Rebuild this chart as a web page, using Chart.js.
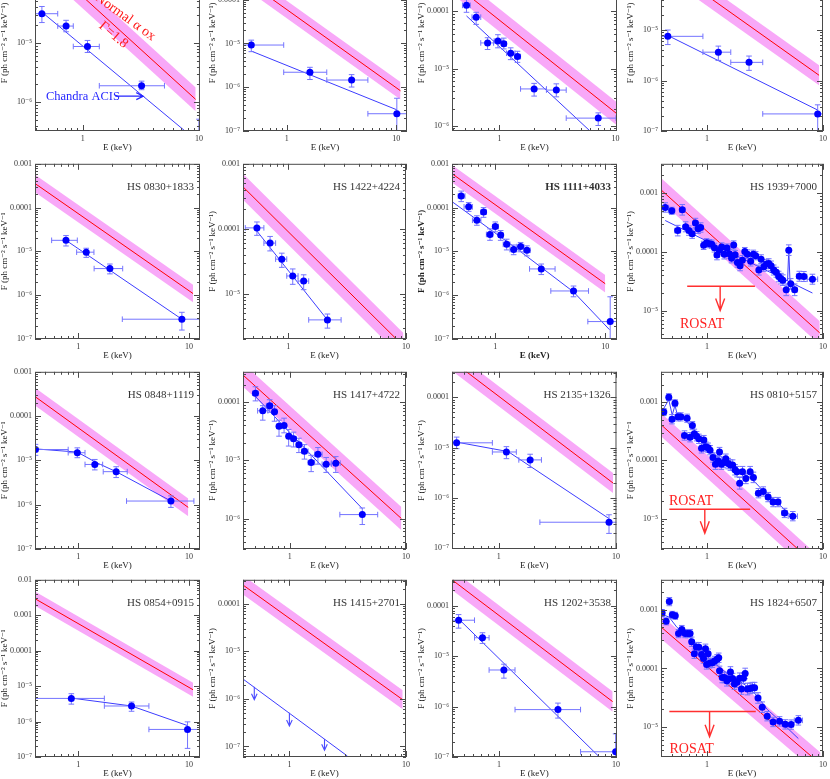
<!DOCTYPE html>
<html><head><meta charset="utf-8">
<script src="https://cdn.jsdelivr.net/npm/chart.js@4.4.1/dist/chart.umd.min.js"></script>
<style>
html,body{margin:0;padding:0;background:#fff;}
#wrap{position:relative;width:830px;height:779px;overflow:hidden;background:#fff}
#wrap canvas{position:absolute}
</style></head>
<body><div id="wrap"></div>
<script>
// ================= DATA =================
const xTickValues = [1, 10];
const xTickLabels = ["1", "10"];
const yTickValues = [1e-2, 1e-3, 1e-4, 1e-5, 1e-6, 1e-7];
const yTickLabels = ["0.01", "0.001", "0.0001", "10⁻⁵", "10⁻⁶", "10⁻⁷"];
const panelNames = ["", "", "", "", "HS 0830+1833", "HS 1422+4224", "HS 1111+4033", "HS 1939+7000",
  "HS 0848+1119", "HS 1417+4722", "HS 2135+1326", "HS 0810+5157", "HS 0854+0915", "HS 1415+2701", "HS 1202+3538", "HS 1824+6507"];
const yTitles = ["F (ph cm⁻² s⁻¹ keV⁻¹)", "F (ph cm⁻² s⁻¹ keV⁻¹)", "F (ph cm⁻² s⁻¹ keV⁻¹)", "F (ph cm⁻² s⁻¹ keV⁻¹)",
  "F (ph cm⁻² s⁻¹ keV⁻¹", "F (ph cm⁻² s⁻¹ keV⁻¹)", "F (ph cm⁻² s⁻¹ keV⁻¹)", "F (ph cm⁻² s⁻¹ keV⁻¹)",
  "F (ph cm⁻² s⁻¹ keV⁻¹", "F (ph cm⁻² s⁻¹ keV⁻¹)", "F (ph cm⁻² s⁻¹ keV⁻¹)", "F (ph cm⁻² s⁻¹ keV⁻¹",
  "F (ph cm⁻² s⁻¹ keV⁻¹", "F (ph cm⁻² s⁻¹ keV⁻¹)", "F (ph cm⁻² s⁻¹ keV⁻¹)", "F (ph cm⁻² s⁻¹ keV⁻¹)"];
const xTitle = "E (keV)";
const xRanges = [[0.389,10.2],[0.40,12.5],[0.39,10.3],[0.40,10],
                 [0.406,12.6],[0.412,10],[0.404,12.8],[0.402,10],
                 [0.406,12.6],[0.397,10],[0.398,10.1],[0.40,10],
                 [0.406,12.6],[0.40,10],[0.396,10.2],[0.40,10]];
const yRanges = [[3.29e-7,3.04e-4],[1e-7,1.06e-3],[8.1e-7,9.7e-4],[1e-7,3.09e-4],
                 [1e-7,1e-3],[2e-6,1e-3],[1e-7,1e-3],[3.28e-6,3.16e-3],
                 [1e-7,1e-3],[3.0e-7,3.32e-4],[9.6e-8,3.2e-4],[3.0e-6,3.33e-3],
                 [1e-7,1e-2],[6.37e-8,3.18e-4],[1e-7,3.25e-4],[3.08e-6,3.25e-3]];
const bandDex = 0.2;

// Panel 1
const p1_E=[0.446,0.72,1.10,3.21,10.0], p1_F=[3.1e-5,1.92e-5,8.7e-6,1.9e-6,2.5e-7];
const p1_Elo=[0.30,0.61,0.83,1.39,7.0], p1_Ehi=[0.61,0.83,1.39,5.05,14];
const p1_Flo=[2.2e-5,1.54e-5,6.9e-6,1.63e-6,1e-7], p1_Fhi=[4.1e-5,2.4e-5,1.1e-5,2.27e-6,5.2e-7];
const p1_modelE=[0.446,10], p1_modelF=[3.3e-5,2.1e-7];
const p1_normE=[0.389,9.37], p1_normF=[3.24e-4,1.12e-6];
// Panel 2
const p2_E=[0.476,1.63,3.91,10.1], p2_F=[9.2e-6,2.2e-6,1.46e-6,2.48e-7];
const p2_Elo=[0.30,0.94,2.32,5.5], p2_Ehi=[0.94,2.32,5.5,16];
const p2_Flo=[6.5e-6,1.5e-6,1.01e-6,5e-8], p2_Fhi=[1.19e-5,2.85e-6,1.94e-6,5.6e-7];
const p2_modelE=[0.476,10.1], p2_modelF=[6.7e-6,3.05e-7];
const p2_normE=[0.40,10.9], p2_normF=[3.08e-4,8.3e-7];
// Panel 3
const p3_E=[0.52,0.63,0.79,0.97,1.09,1.25,1.43,1.99,3.09,7.1];
const p3_F=[1.27e-4,7.9e-5,2.8e-5,3.03e-5,2.7e-5,1.85e-5,1.62e-5,4.4e-6,4.2e-6,1.36e-6];
const p3_Elo=[0.48,0.58,0.69,0.90,1.05,1.15,1.36,1.52,2.54,3.76];
const p3_Ehi=[0.56,0.69,0.89,1.05,1.15,1.36,1.52,2.54,3.76,10.1];
const p3_Flo=[9.6e-5,5.9e-5,2.15e-5,2.3e-5,2.2e-5,1.43e-5,1.28e-5,3.3e-6,3.2e-6,1.01e-6];
const p3_Fhi=[1.6e-4,9.6e-5,3.45e-5,3.9e-5,3.4e-5,2.3e-5,2.0e-5,5.5e-6,5.4e-6,1.68e-6];
const p3_modelE=[0.52,6.03], p3_modelF=[8.3e-5,8.1e-7];
const p3_normE=[0.39,10.2], p3_normF=[3.2e-4,1.64e-6];
// Panel 4
const p4_E=[0.458,1.25,2.3,9.0], p4_F=[7.5e-6,3.64e-6,2.29e-6,2.18e-7];
const p4_Elo=[0.30,0.92,1.6,3.02], p4_Ehi=[0.92,1.6,3.02,10.5];
const p4_Flo=[5.15e-6,2.5e-6,1.59e-6,9e-8], p4_Fhi=[1.0e-5,4.8e-6,3.05e-6,3.3e-7];
const p4_modelE=[0.458,9.0], p4_modelF=[7.8e-6,2.6e-7];
const p4_normE=[0.40,9.25], p4_normF=[2.12e-4,1.27e-6];
// Panel 5 HS 0830+1833
const p5_E=[0.774,1.18,1.93,8.64], p5_F=[1.79e-5,9.6e-6,4.05e-6,2.83e-7];
const p5_Elo=[0.574,0.966,1.39,2.5], p5_Ehi=[0.98,1.385,2.52,16];
const p5_Flo=[1.33e-5,7.3e-6,3.07e-6,1.6e-7], p5_Fhi=[2.3e-5,1.18e-5,5.15e-6,4.07e-7];
const p5_modelE=[0.774,8.64], p5_modelF=[1.79e-5,2.83e-7];
const p5_normE=[0.406,10.9], p5_normF=[3.55e-4,1.09e-6];
// Panel 6 HS 1422+4224
const p6_E=[0.541,0.70,0.88,1.09,1.35,2.15], p6_F=[1.03e-4,6.0e-5,3.4e-5,1.87e-5,1.56e-5,3.94e-6];
const p6_Elo=[0.431,0.62,0.78,0.97,1.21,1.49], p6_Ehi=[0.62,0.78,0.97,1.21,1.49,2.81];
const p6_Flo=[7.9e-5,4.55e-5,2.54e-5,1.39e-5,1.15e-5,2.94e-6], p6_Fhi=[1.27e-4,7.6e-5,4.2e-5,2.4e-5,1.95e-5,4.85e-6];
const p6_modelE=[0.541,2.15], p6_modelF=[9.2e-5,3.94e-6];
const p6_normE=[0.412,9.5], p6_normF=[4.42e-4,1.56e-6];
// Panel 7 HS 1111+4033
const p7_E=[0.49,0.573,0.68,0.783,0.895,1.0,1.12,1.27,1.47,1.7,1.94,2.62,5.15,11.1];
const p7_F=[1.84e-4,1.04e-4,5.13e-5,7.9e-5,2.44e-5,3.69e-5,2.36e-5,1.45e-5,1.1e-5,1.29e-5,1.06e-5,3.98e-6,1.25e-6,2.5e-7];
const p7_Elo=[0.46,0.52,0.62,0.74,0.83,0.95,1.07,1.18,1.36,1.57,1.82,2.05,3.2,6.95];
const p7_Ehi=[0.53,0.62,0.74,0.83,0.95,1.07,1.18,1.36,1.57,1.82,2.08,3.5,7.05,16];
const p7_Flo=[1.37e-4,8.2e-5,3.95e-5,6e-5,1.79e-5,2.8e-5,1.79e-5,1.08e-5,8.4e-6,9.8e-6,7.9e-6,2.96e-6,9.2e-7,5e-8];
const p7_Fhi=[2.38e-4,1.3e-4,6.5e-5,1.0e-4,3.27e-5,4.7e-5,3e-5,1.9e-5,1.4e-5,1.6e-5,1.34e-5,5.15e-6,1.62e-6,9.2e-7];
const p7_modelE=[0.404,1.52,5.15,10.95], p7_modelF=[1.37e-4,1.22e-5,1.19e-6,1.63e-7];
const p7_normE=[0.404,10], p7_normF=[5.96e-4,1.83e-6];
// Panel 8 HS 1939+7000
const p8_E=[0.437,0.498,0.56,0.613,0.655,0.699,0.746,0.796,0.839,0.883,0.937,0.993,1.05,1.10,1.16,1.22,1.28,1.34,1.41,1.49,
  1.56,1.63,1.70,1.75,1.83,1.93,2.02,2.12,2.23,2.38,2.51,2.63,2.80,2.93,3.09,3.26,3.41,3.57,3.76,3.96,
  4.15,4.34,4.51,4.82,5.07,5.27,5.70,6.25,6.85,8.11];
const p8_F=[5.7e-4,5.0e-4,2.3e-4,5.2e-4,2.67e-4,2.3e-4,2.04e-4,3.1e-4,2.47e-4,2.6e-4,1.29e-4,1.43e-4,1.38e-4,1.35e-4,1.18e-4,8.8e-5,1.07e-4,1.21e-4,9.1e-5,1.16e-4,
  9.3e-5,7.8e-5,1.31e-4,8.9e-5,6.6e-5,5.8e-5,7.2e-5,1.01e-4,9.1e-5,6.9e-5,9.1e-5,8.6e-5,4.9e-5,7.5e-5,5.6e-5,6.2e-5,6.35e-5,5.8e-5,4.9e-5,4.5e-5,
  3.8e-5,3.5e-5,3.3e-5,2.26e-5,1.07e-4,2.85e-5,2.26e-5,3.84e-5,3.8e-5,3.42e-5];
const p8_dF=[0.08,0.06,0.09,0.09,0.085,0.08,0.08,0.08,0.08,0.08,0.07,0.07,0.07,0.07,0.075,0.08,0.07,0.07,0.08,0.07,
  0.075,0.08,0.07,0.075,0.08,0.085,0.08,0.07,0.075,0.08,0.07,0.07,0.085,0.075,0.08,0.08,0.08,0.08,0.085,0.085,
  0.09,0.09,0.09,0.1,0.09,0.09,0.1,0.085,0.085,0.085];
const p8_dE=[0.03,0.025,0.025,0.022,0.02,0.02,0.02,0.02,0.02,0.02,0.018,0.018,0.018,0.018,0.018,0.018,0.018,0.018,0.018,0.018,
  0.015,0.015,0.015,0.015,0.015,0.015,0.015,0.015,0.015,0.015,0.015,0.015,0.015,0.015,0.015,0.015,0.015,0.015,0.015,0.015,
  0.015,0.015,0.015,0.015,0.012,0.015,0.02,0.025,0.025,0.045];
const p8_modelE=[0.437,4.95,5.07,5.2,8.11], p8_modelF=[3.42e-4,3.2e-5,1.07e-4,3.06e-5,1.99e-5];
const p8_normE=[0.402,9.37], p8_normF=[1.14e-3,4.17e-6];
const p8_rosatE=[0.676,2.59], p8_rosatF=[2.6e-5,2.6e-5], p8_rosatArrow=[1.3,2.6e-5,1.0e-5];
// Panel 9 HS 0848+1119
const p9_E=[0.41,0.98,1.41,2.2,6.88], p9_F=[1.76e-5,1.49e-5,8.1e-6,5.57e-6,1.21e-6];
const p9_Elo=[0.3,0.81,1.15,1.68,2.73], p9_Ehi=[0.81,1.15,1.66,2.77,11.1];
const p9_Flo=[1.3e-5,1.15e-5,6.1e-6,4.1e-6,8.7e-7], p9_Fhi=[2.3e-5,1.92e-5,1.05e-5,7.2e-6,1.58e-6];
const p9_modelE=[0.41,0.98,1.46,2.22,6.88], p9_modelF=[1.82e-5,1.54e-5,8.9e-6,5.5e-6,1.21e-6];
const p9_normE=[0.406,9.86], p9_normF=[2.76e-4,8.7e-7];
// Panel 10 HS 1417+4722
const p10_E=[0.508,0.587,0.673,0.741,0.81,0.895,0.98,1.08,1.2,1.34,1.53,1.75,2.06,2.49,4.21];
const p10_F=[1.42e-4,7.1e-5,8.7e-5,6.85e-5,3.85e-5,3.96e-5,2.6e-5,2.35e-5,1.86e-5,1.43e-5,9.2e-6,1.27e-5,8.6e-6,8.95e-6,1.17e-6];
const p10_Elo=[0.48,0.53,0.63,0.71,0.775,0.855,0.94,1.03,1.14,1.27,1.44,1.64,1.9,2.28,2.7];
const p10_Ehi=[0.535,0.65,0.71,0.775,0.855,0.94,1.03,1.14,1.27,1.44,1.64,1.9,2.28,2.72,5.71];
const p10_Flo=[1.05e-4,4.9e-5,6.7e-5,4.7e-5,2.6e-5,2.97e-5,1.76e-5,1.7e-5,1.36e-5,1.05e-5,6.4e-6,8.6e-6,6.2e-6,6.2e-6,7.9e-7];
const p10_Fhi=[1.84e-4,8.7e-5,1.1e-4,8.7e-5,4.9e-5,5.3e-5,3.4e-5,3.05e-5,2.4e-5,1.86e-5,1.22e-5,1.66e-5,1.12e-5,1.16e-5,1.52e-6];
const p10_modelE=[0.508,4.21], p10_modelF=[1.25e-4,1.48e-6];
const p10_normE=[0.397,9.13], p10_normF=[2.92e-4,1.0e-6];
// Panel 11 HS 2135+1326
const p11_E=[0.436,1.16,1.85,8.72], p11_F=[1.24e-5,8.15e-6,5.67e-6,3.27e-7];
const p11_Elo=[0.3,0.88,1.48,2.24], p11_Ehi=[0.88,1.41,2.31,14];
const p11_Flo=[9.5e-6,6.0e-6,4.0e-6,1.96e-7], p11_Fhi=[1.61e-5,1.04e-5,7.35e-6,4.6e-7];
const p11_modelE=[0.436,1.2,8.72], p11_modelF=[1.28e-5,8.3e-6,3.86e-7];
const p11_normE=[0.398,9.43], p11_normF=[5.3e-4,1.97e-6];
// Panel 12 HS 0810+5157
const p12_E=[0.423,0.467,0.498,0.528,0.56,0.593,0.638,0.672,0.713,0.746,0.776,0.812,0.849,0.895,0.937,0.975,1.02,1.06,1.124,1.18,
  1.24,1.28,1.33,1.39,1.45,1.52,1.59,1.66,1.74,1.81,1.91,2.02,2.16,2.35,2.51,2.77,3.05,3.36,3.71,4.09,4.66,5.49];
const p12_F=[6.76e-4,1.22e-3,5.1e-4,9.6e-4,5.6e-4,5.6e-4,2.68e-4,5.3e-4,2.5e-4,3.96e-4,2.86e-4,2.6e-4,2.35e-4,1.61e-4,2.23e-4,1.72e-4,1.65e-4,1.5e-4,1.12e-4,8.6e-5,
  9.8e-5,1.39e-4,8.6e-5,9.2e-5,1.07e-4,8.8e-5,8.3e-5,8.3e-5,6.9e-5,6.4e-5,4.04e-5,6.4e-5,4.9e-5,6.4e-5,5.1e-5,2.73e-5,2.92e-5,2.34e-5,1.92e-5,1.92e-5,1.25e-5,1.1e-5];
const p12_dF=[0.06,0.06,0.08,0.06,0.07,0.07,0.08,0.07,0.08,0.07,0.08,0.08,0.08,0.08,0.08,0.08,0.08,0.08,0.08,0.09,
  0.09,0.08,0.09,0.09,0.08,0.09,0.09,0.09,0.09,0.09,0.1,0.09,0.09,0.09,0.09,0.08,0.08,0.08,0.08,0.08,0.08,0.08];
const p12_dE=[0.02,0.02,0.02,0.02,0.02,0.02,0.02,0.02,0.02,0.02,0.018,0.018,0.018,0.018,0.018,0.018,0.018,0.018,0.018,0.018,
  0.015,0.015,0.015,0.015,0.015,0.015,0.015,0.015,0.015,0.015,0.015,0.015,0.015,0.015,0.015,0.02,0.02,0.02,0.02,0.02,0.025,0.04];
const p12_modelE=[0.40,0.467,0.50,0.528,0.56,0.64,0.75,0.85,1.0,1.2,1.5,1.8,2.2,2.6,3.2,4.0,5.5];
const p12_modelF=[6.5e-4,1.1e-3,6e-4,8.8e-4,5.6e-4,5.0e-4,3.6e-4,2.6e-4,1.75e-4,1.2e-4,9e-5,7e-5,5.5e-5,4.2e-5,2.7e-5,1.9e-5,1.05e-5];
const p12_normE=[0.40,9.5], p12_normF=[4.12e-4,1.33e-6];
const p12_rosatE=[0.472,2.35], p12_rosatF=[1.44e-5,1.44e-5], p12_rosatArrow=[0.955,1.44e-5,5.6e-6];
// Panel 13 HS 0854+0915
const p13_E=[0.865,3.03,9.72], p13_F=[4.5e-6,2.75e-6,6.0e-7];
const p13_Elo=[0.3,1.72,4.35], p13_Ehi=[1.72,4.35,16];
const p13_Flo=[3.1e-6,1.95e-6,1.75e-7], p13_Fhi=[6.1e-6,3.56e-6,9.8e-7];
const p13_modelE=[0.865,3.03,9.72], p13_modelF=[4.6e-6,2.75e-6,7.7e-7];
const p13_normE=[0.406,10.9], p13_normF=[2.93e-3,7.9e-6];
// Panel 14 HS 1415+2701 (upper limits)
const p14_modelE=[0.40,3.14], p14_modelF=[2.61e-6,6.3e-8];
const p14_ulE=[0.5,1.0,2.0], p14_ulTop=[1.8e-6,5.1e-7,1.44e-7], p14_ulTip=[9.6e-7,2.7e-7,8.3e-8];
const p14_normE=[0.40,9.37], p14_normF=[2.47e-4,9.6e-7];
// Panel 15 HS 1202+3538
const p15_E=[0.451,0.722,1.10,3.19,9.94], p15_F=[5.14e-5,2.31e-5,5.3e-6,8.7e-7,1.27e-7];
const p15_Elo=[0.3,0.617,0.822,1.37,4.98], p15_Ehi=[0.617,0.822,1.37,4.98,16];
const p15_Flo=[3.58e-5,1.78e-5,3.65e-6,5.9e-7,5e-8], p15_Fhi=[6.65e-5,2.9e-5,6.9e-6,1.17e-6,2.88e-7];
const p15_modelE=[0.451,7.22], p15_modelF=[5.46e-5,1e-7];
const p15_normE=[0.396,9.37], p15_normF=[3.25e-4,1.25e-6];
// Panel 16 HS 1824+6507
const p16_E=[0.409,0.443,0.472,0.501,0.531,0.567,0.605,0.646,0.681,0.713,0.736,0.776,0.807,0.849,0.895,0.931,0.968,0.99,1.02,1.05,
  1.11,1.16,1.22,1.26,1.28,1.35,1.41,1.48,1.53,1.59,1.66,1.72,1.81,1.91,1.98,2.06,2.13,2.23,2.35,2.46,2.57,2.75,2.99,3.3,3.71,4.22,4.72,5.31,6.13];
const p16_F=[8.8e-4,6.35e-4,1.38e-3,8.2e-4,7.9e-4,3.93e-4,4.6e-4,3.93e-4,3.93e-4,3.93e-4,2.85e-4,1.78e-4,2.31e-4,2.3e-4,1.73e-4,1.47e-4,2.16e-4,1.17e-4,1.78e-4,1.22e-4,
  1.25e-4,1.34e-4,1.43e-4,1.52e-4,9.1e-5,7.0e-5,7.0e-5,6.15e-5,6.6e-5,8.7e-5,6.7e-5,5.4e-5,5.8e-5,6.8e-5,4.45e-5,6.8e-5,8.2e-5,4.45e-5,4.56e-5,4.7e-5,
  4.7e-5,3.13e-5,2.18e-5,1.53e-5,1.22e-5,1.25e-5,1.11e-5,1.1e-5,1.3e-5];
const p16_dF=[0.06,0.06,0.07,0.06,0.06,0.07,0.07,0.07,0.07,0.07,0.08,0.08,0.08,0.08,0.08,0.08,0.08,0.08,0.08,0.08,
  0.08,0.08,0.08,0.08,0.08,0.09,0.09,0.09,0.09,0.09,0.09,0.09,0.09,0.09,0.09,0.09,0.09,0.1,0.09,0.09,
  0.09,0.09,0.09,0.08,0.08,0.08,0.08,0.08,0.08];
const p16_dE=[0.02,0.02,0.02,0.02,0.02,0.02,0.02,0.02,0.02,0.02,0.018,0.018,0.018,0.018,0.018,0.018,0.018,0.018,0.018,0.018,
  0.015,0.015,0.015,0.015,0.015,0.015,0.015,0.015,0.015,0.015,0.015,0.015,0.015,0.015,0.015,0.015,0.015,0.015,0.015,0.015,
  0.015,0.015,0.015,0.015,0.015,0.02,0.02,0.02,0.035];
const p16_modelE=[0.40,0.47,0.55,0.65,0.75,0.9,1.1,1.4,1.8,2.2,2.7,3.3,4.2,6.13];
const p16_modelF=[8.5e-4,7.5e-4,5.0e-4,4.0e-4,3.0e-4,2.0e-4,1.35e-4,9e-5,6.5e-5,5e-5,3.4e-5,2e-5,1.3e-5,6.35e-6];
const p16_normE=[0.40,9.5], p16_normF=[5.1e-4,2.33e-6];
const p16_rosatE=[0.472,2.63], p16_rosatF=[1.84e-5,1.84e-5], p16_rosatArrow=[1.05,1.84e-5,6.8e-6];

// P1 annotation values
const p1_acisArrow=[1.91,1.27e-6,3.32,1.27e-6];

// ================= LAYOUT / STYLE =================
const COL_L=[35,243,452,661], COL_R=[200,407,617,824];
const ROW_T=[-47,162,370,578], ROW_B=[131,339,549,757];
const PAD_L=44, PAD_R=6, PAD_T=6, PAD_B=26;
const C_POINT='#0000ff', C_ERR='#7474ff', C_MODEL='#3c3cff', C_RED='#ff0000', C_BAND='#f8a8f8', C_AXIS='#4a4a4a', C_ROSAT='#ff3030';
const FONT="'Liberation Serif', 'DejaVu Serif', serif";
Chart.defaults.font.family = FONT;
Chart.defaults.color = '#333';
Chart.defaults.animation = false;

function sparse(E,F,Elo,Ehi,Flo,Fhi){ return {E,F,Elo,Ehi,Flo,Fhi}; }
function dense(E,F,dE,dF){
  return {E,F,
    Elo:E.map((e,i)=>e/Math.pow(10,dE[i]??0.02)), Ehi:E.map((e,i)=>e*Math.pow(10,dE[i]??0.02)),
    Flo:F.map((v,i)=>v/Math.pow(10,dF[i]??0.08)), Fhi:F.map((v,i)=>v*Math.pow(10,dF[i]??0.08))};
}
const panels = [
  {pts:sparse(p1_E,p1_F,p1_Elo,p1_Ehi,p1_Flo,p1_Fhi), mE:p1_modelE, mF:p1_modelF, nE:p1_normE, nF:p1_normF},
  {pts:sparse(p2_E,p2_F,p2_Elo,p2_Ehi,p2_Flo,p2_Fhi), mE:p2_modelE, mF:p2_modelF, nE:p2_normE, nF:p2_normF},
  {pts:sparse(p3_E,p3_F,p3_Elo,p3_Ehi,p3_Flo,p3_Fhi), mE:p3_modelE, mF:p3_modelF, nE:p3_normE, nF:p3_normF},
  {pts:sparse(p4_E,p4_F,p4_Elo,p4_Ehi,p4_Flo,p4_Fhi), mE:p4_modelE, mF:p4_modelF, nE:p4_normE, nF:p4_normF},
  {pts:sparse(p5_E,p5_F,p5_Elo,p5_Ehi,p5_Flo,p5_Fhi), mE:p5_modelE, mF:p5_modelF, nE:p5_normE, nF:p5_normF},
  {pts:sparse(p6_E,p6_F,p6_Elo,p6_Ehi,p6_Flo,p6_Fhi), mE:p6_modelE, mF:p6_modelF, nE:p6_normE, nF:p6_normF},
  {pts:sparse(p7_E,p7_F,p7_Elo,p7_Ehi,p7_Flo,p7_Fhi), mE:p7_modelE, mF:p7_modelF, nE:p7_normE, nF:p7_normF, bold:true},
  {pts:dense(p8_E,p8_F,p8_dE,p8_dF), mE:p8_modelE, mF:p8_modelF, nE:p8_normE, nF:p8_normF,
    rosat:{E:p8_rosatE,F:p8_rosatF,arrow:p8_rosatArrow, text:{x:0.91,y:5.0e-6,align:'center'}}},
  {pts:sparse(p9_E,p9_F,p9_Elo,p9_Ehi,p9_Flo,p9_Fhi), mE:p9_modelE, mF:p9_modelF, nE:p9_normE, nF:p9_normF},
  {pts:sparse(p10_E,p10_F,p10_Elo,p10_Ehi,p10_Flo,p10_Fhi), mE:p10_modelE, mF:p10_modelF, nE:p10_normE, nF:p10_normF},
  {pts:sparse(p11_E,p11_F,p11_Elo,p11_Ehi,p11_Flo,p11_Fhi), mE:p11_modelE, mF:p11_modelF, nE:p11_normE, nF:p11_normF},
  {pts:dense(p12_E,p12_F,p12_dE,p12_dF), mE:p12_modelE, mF:p12_modelF, nE:p12_normE, nF:p12_normF,
    rosat:{E:p12_rosatE,F:p12_rosatF,arrow:p12_rosatArrow, text:{x:0.727,y:1.68e-5,align:'center'}}},
  {pts:sparse(p13_E,p13_F,p13_Elo,p13_Ehi,p13_Flo,p13_Fhi), mE:p13_modelE, mF:p13_modelF, nE:p13_normE, nF:p13_normF},
  {pts:null, mE:p14_modelE, mF:p14_modelF, nE:p14_normE, nF:p14_normF, ul:{E:p14_ulE,top:p14_ulTop,tip:p14_ulTip}},
  {pts:sparse(p15_E,p15_F,p15_Elo,p15_Ehi,p15_Flo,p15_Fhi), mE:p15_modelE, mF:p15_modelF, nE:p15_normE, nF:p15_normF},
  {pts:dense(p16_E,p16_F,p16_dE,p16_dF), mE:p16_modelE, mF:p16_modelF, nE:p16_normE, nF:p16_normF,
    rosat:{E:p16_rosatE,F:p16_rosatF,arrow:p16_rosatArrow, text:{x:0.736,y:3.6e-6,align:'center'}}}
];
// extra texts for panel 1
panels[0].texts=[
  {x:0.483,y:1.24e-6,text:'Chandra ACIS',color:'#2626ff',size:12.5,align:'left',base:'middle',rot:0},
  {x:2.33,y:2.71e-5,text:'Normal α ox',color:'#ff1a1a',size:14,align:'center',base:'middle',rot:36},
  {x:1.84,y:1.36e-5,text:'Γ=1.8',color:'#ff1a1a',size:14,align:'center',base:'middle',rot:40}
];
panels[0].arrows=[{x1:p1_acisArrow[0],y1:p1_acisArrow[1],x2:p1_acisArrow[2],y2:p1_acisArrow[3],color:'#2626ff',w:1.2,head:7,hw:3.5}];

// ================= HELPERS =================
function logTicks(min,max){
  const out=[];
  for(let e=Math.floor(Math.log10(min))-1;e<=Math.ceil(Math.log10(max));e++){
    for(let m=1;m<=9;m++){
      const v=m*Math.pow(10,e);
      if(v>=min*0.9999 && v<=max*1.0001) out.push({value:v, major:m===1});
    }
  }
  return out;
}
function lookup(vals,labels,v){
  const i=vals.findIndex(t=>Math.abs(Math.log10(t)-Math.log10(v))<1e-6);
  return i>=0?labels[i]:'';
}
function isDecade(v){ const l=Math.log10(v); return Math.abs(l-Math.round(l))<1e-6; }
function drawArrow(ctx,x1,y1,x2,y2,color,w,head,hw){
  ctx.save(); ctx.strokeStyle=color; ctx.lineWidth=w; ctx.beginPath();
  ctx.moveTo(x1,y1); ctx.lineTo(x2,y2);
  const ang=Math.atan2(y2-y1,x2-x1);
  const bx=x2-head*Math.cos(ang), by=y2-head*Math.sin(ang);
  const nx=-Math.sin(ang)*hw, ny=Math.cos(ang)*hw;
  ctx.moveTo(bx+nx,by+ny); ctx.lineTo(x2,y2); ctx.lineTo(bx-nx,by-ny);
  ctx.stroke(); ctx.restore();
}

const errorBarsPlugin={
  id:'errorBars',
  beforeDatasetDraw(chart,args){
    const ds=chart.data.datasets[args.index];
    if(!ds.err) return;
    const {ctx,chartArea:a,scales:{x,y}}=chart;
    ctx.save(); ctx.beginPath(); ctx.rect(a.left,a.top,a.right-a.left,a.bottom-a.top); ctx.clip();
    ctx.strokeStyle=C_ERR; ctx.lineWidth=1; ctx.beginPath();
    const c=2.8;
    ds.data.forEach((p,i)=>{
      const px=x.getPixelForValue(p.x), py=y.getPixelForValue(p.y);
      const xl=x.getPixelForValue(ds.err.Elo[i]), xh=x.getPixelForValue(ds.err.Ehi[i]);
      const yl=y.getPixelForValue(ds.err.Flo[i]), yh=y.getPixelForValue(ds.err.Fhi[i]);
      ctx.moveTo(xl,py); ctx.lineTo(xh,py);
      ctx.moveTo(xl,py-c); ctx.lineTo(xl,py+c);
      ctx.moveTo(xh,py-c); ctx.lineTo(xh,py+c);
      ctx.moveTo(px,yl); ctx.lineTo(px,yh);
      ctx.moveTo(px-c,yl); ctx.lineTo(px+c,yl);
      ctx.moveTo(px-c,yh); ctx.lineTo(px+c,yh);
    });
    ctx.stroke(); ctx.restore();
  }
};

function makeAnnot(p,name){
  return {
    id:'annot',
    afterDatasetsDraw(chart){
      const {ctx,chartArea:a,scales:{x,y}}=chart;
      const X=v=>x.getPixelForValue(v), Y=v=>y.getPixelForValue(v);
      if(p.ul){
        p.ul.E.forEach((e,i)=>drawArrow(ctx,X(e),Y(p.ul.top[i]),X(e),Y(p.ul.tip[i]),'#4a4aff',1.1,6,2.8));
      }
      if(p.rosat){
        const r=p.rosat.arrow;
        drawArrow(ctx,X(r[0]),Y(r[1]),X(r[0]),Y(r[2]),C_ROSAT,1.4,12,4.5);
        ctx.save(); ctx.fillStyle='#ff2020'; ctx.font=`14px ${FONT}`;
        ctx.textAlign=p.rosat.text.align; ctx.textBaseline='alphabetic';
        ctx.fillText('ROSAT',X(p.rosat.text.x),Y(p.rosat.text.y)); ctx.restore();
      }
      (p.arrows||[]).forEach(ar=>drawArrow(ctx,X(ar.x1),Y(ar.y1),X(ar.x2),Y(ar.y2),ar.color,ar.w,ar.head,ar.hw));
      (p.texts||[]).forEach(t=>{
        ctx.save(); ctx.translate(X(t.x),Y(t.y)); ctx.rotate(t.rot*Math.PI/180);
        ctx.fillStyle=t.color; ctx.font=`${t.size}px ${FONT}`; ctx.textAlign=t.align; ctx.textBaseline=t.base;
        ctx.fillText(t.text,0,0); ctx.restore();
      });
      if(name){
        ctx.save(); ctx.fillStyle='#333'; ctx.font=`${p.bold?'bold ':''}11px ${FONT}`;
        ctx.textAlign='right'; ctx.textBaseline='middle';
        ctx.fillText(name,a.right-6,a.top+23); ctx.restore();
      }
    }
  };
}
const framePlugin={
  id:'frameTicks',
  afterDatasetsDraw(chart){
    const {ctx,chartArea:a,scales:{x,y}}=chart;
    ctx.save(); ctx.strokeStyle=C_AXIS; ctx.lineWidth=1;
    ctx.strokeRect(a.left+0.5,a.top+0.5,a.right-a.left-1,a.bottom-a.top-1);
    ctx.beginPath();
    x.ticks.forEach(t=>{
      const px=Math.round(x.getPixelForValue(t.value))+0.5, L=isDecade(t.value)?6:3;
      ctx.moveTo(px,a.bottom); ctx.lineTo(px,a.bottom-L);
      ctx.moveTo(px,a.top); ctx.lineTo(px,a.top+L);
    });
    y.ticks.forEach(t=>{
      const py=Math.round(y.getPixelForValue(t.value))+0.5, L=isDecade(t.value)?6:3;
      ctx.moveTo(a.left,py); ctx.lineTo(a.left+L,py);
      ctx.moveTo(a.right,py); ctx.lineTo(a.right-L,py);
    });
    ctx.stroke(); ctx.restore();
  }
};

// ================= BUILD =================
const wrap=document.getElementById('wrap');
panels.forEach((p,k)=>{
  const r=Math.floor(k/4), c=k%4;
  const pw=COL_R[c]-COL_L[c], ph=ROW_B[r]-ROW_T[r];
  const cv=document.createElement('canvas');
  cv.width=pw+PAD_L+PAD_R; cv.height=ph+PAD_T+PAD_B;
  cv.style.left=(COL_L[c]-PAD_L)+'px'; cv.style.top=(ROW_T[r]-PAD_T)+'px';
  cv.style.width=cv.width+'px'; cv.style.height=cv.height+'px';
  wrap.appendChild(cv);

  const f=Math.pow(10,bandDex);
  const datasets=[
    {data:p.nE.map((e,i)=>({x:e,y:p.nF[i]*f})), showLine:true, pointRadius:0, borderWidth:0, borderColor:'rgba(0,0,0,0)', backgroundColor:C_BAND, fill:'+1', order:10},
    {data:p.nE.map((e,i)=>({x:e,y:p.nF[i]/f})), showLine:true, pointRadius:0, borderWidth:0, borderColor:'rgba(0,0,0,0)', fill:false, order:9},
    {data:p.nE.map((e,i)=>({x:e,y:p.nF[i]})), showLine:true, pointRadius:0, borderWidth:1, borderColor:C_RED, fill:false, order:8},
    {data:p.mE.map((e,i)=>({x:e,y:p.mF[i]})), showLine:true, pointRadius:0, borderWidth:1, borderColor:C_MODEL, fill:false, order:5}
  ];
  if(p.rosat){
    datasets.push({data:p.rosat.E.map((e,i)=>({x:e,y:p.rosat.F[i]})), showLine:true, pointRadius:0, borderWidth:1.5, borderColor:C_ROSAT, fill:false, order:4});
  }
  if(p.pts){
    datasets.push({data:p.pts.E.map((e,i)=>({x:e,y:p.pts.F[i]})), showLine:false, pointRadius:3.5, pointBackgroundColor:C_POINT, pointBorderWidth:0, backgroundColor:C_POINT, borderColor:C_POINT, err:p.pts, order:1});
  }
  const bold=!!p.bold;
  new Chart(cv,{
    type:'scatter',
    data:{datasets},
    options:{
      responsive:false, devicePixelRatio:1, animation:false,
      layout:{padding:{left:0,right:PAD_R,top:PAD_T,bottom:0}},
      plugins:{legend:{display:false}, tooltip:{enabled:false}},
      scales:{
        x:{type:'logarithmic', position:'bottom', min:xRanges[k][0], max:xRanges[k][1],
          afterBuildTicks:s=>{s.ticks=logTicks(s.min,s.max);},
          afterFit:s=>{s.height=PAD_B;},
          grid:{display:false,drawTicks:false}, border:{display:false},
          ticks:{autoSkip:false,maxRotation:0,minRotation:0,padding:3,font:{size:8},color:'#333',
            callback:v=>lookup(xTickValues,xTickLabels,v)},
          title:{display:true,text:xTitle,color:'#222',font:{size:9,weight:bold?'bold':'normal'},padding:{top:0,bottom:4}}
        },
        y:{type:'logarithmic', position:'left', min:yRanges[k][0], max:yRanges[k][1],
          afterBuildTicks:s=>{s.ticks=logTicks(s.min,s.max);},
          afterFit:s=>{s.width=PAD_L;},
          grid:{display:false,drawTicks:false}, border:{display:false},
          ticks:{autoSkip:false,padding:3,font:{size:8},color:'#333',
            callback:v=>lookup(yTickValues,yTickLabels,v)},
          title:{display:true,text:yTitles[k],color:'#222',font:{size:9,weight:bold?'bold':'normal'},padding:{top:8,bottom:0}}
        }
      }
    },
    plugins:[errorBarsPlugin, makeAnnot(p,panelNames[k]), framePlugin]
  });
});
</script>
</body></html>
